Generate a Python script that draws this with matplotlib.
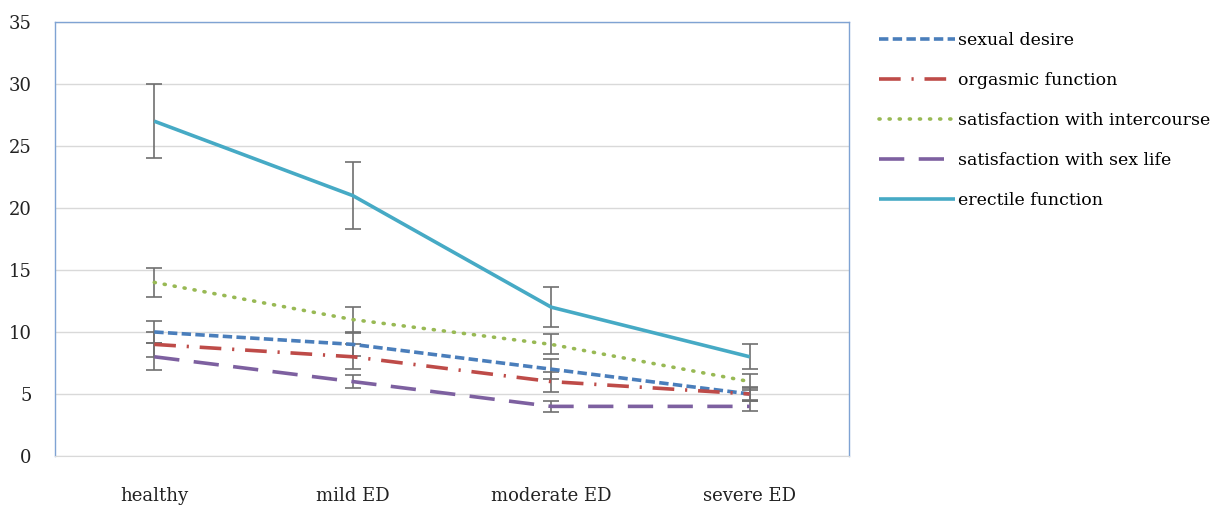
import numpy as np
import matplotlib
matplotlib.use("Agg")
from matplotlib import pyplot as plt

categories = ["healthy", "mild ED", "moderate ED", "severe ED"]

sexual_desire = [10, 9, 7, 5]
orgasmic = [9, 8, 6, 5]
intercourse = [14, 11, 9, 6]
sex_life = [8, 6, 4, 4]
erectile = [27, 21, 12, 8]

sexual_desire_err = [0.9, 0.9, 0.8, 0.6]
orgasmic_err = [1.0, 1.0, 0.8, 0.5]
intercourse_err = [1.2, 1.0, 0.8, 0.65]
sex_life_err = [1.1, 0.5, 0.45, 0.4]
erectile_err = [3.0, 2.7, 1.6, 1.0]

plt.rcParams['font.family'] = ['DejaVu Serif']

fig = plt.figure(figsize=(12.2, 5.08), dpi=100)
ax = fig.add_axes([0.0451, 0.1024, 0.6508, 0.8543])

x = np.arange(len(categories))
series = [
    ("sexual desire", sexual_desire, sexual_desire_err, "#4A7EBB", (0, (2.6, 1.2)), "butt"),
    ("orgasmic function", orgasmic, orgasmic_err, "#BE4B48", (0, (6, 3, 0.6, 3)), "butt"),
    ("satisfaction with intercourse", intercourse, intercourse_err, "#98B954", (0, (0.3, 2.5)), "round"),
    ("satisfaction with sex life", sex_life, sex_life_err, "#7D60A0", (0, (7, 4)), "butt"),
    ("erectile function", erectile, erectile_err, "#46AAC5", "-", "butt"),
]

# error bars first, lines on top
for name, vals, err, col, ls, cap in series:
    ax.errorbar(x, vals, yerr=err, fmt="none", ecolor="#6f6f6f", elinewidth=1.2,
                capsize=6, capthick=1.2, zorder=2)
for name, vals, err, col, ls, cap in series:
    ax.plot(x, vals, color=col, linestyle=ls, linewidth=2.6, label=name,
            dash_capstyle=cap, solid_capstyle="butt", zorder=3)

ax.set_xlim(-0.5, 3.5)
ax.set_ylim(0, 35)
ax.set_yticks(range(0, 36, 5))
ax.set_xticks(x)
ax.set_xticklabels(categories)
ax.yaxis.grid(True, color="#d9d9d9", linewidth=1)
ax.set_axisbelow(True)
ax.tick_params(axis="both", length=0, labelsize=13, colors="#222222")
ax.tick_params(axis="x", pad=22)
ax.tick_params(axis="y", pad=17)
for s in ["left", "top", "right"]:
    ax.spines[s].set_color("#7FA3D3")
    ax.spines[s].set_linewidth(1)
ax.spines["bottom"].set_color("#d9d9d9")

leg = fig.legend(loc="upper left", bbox_to_anchor=(0.7075, 0.968), frameon=False,
                 fontsize=12.5, handlelength=4.4, labelspacing=1.33, handletextpad=0.15)
for line in leg.get_lines():
    line.set_linewidth(2.6)

fig.savefig("out.png", dpi=100)
